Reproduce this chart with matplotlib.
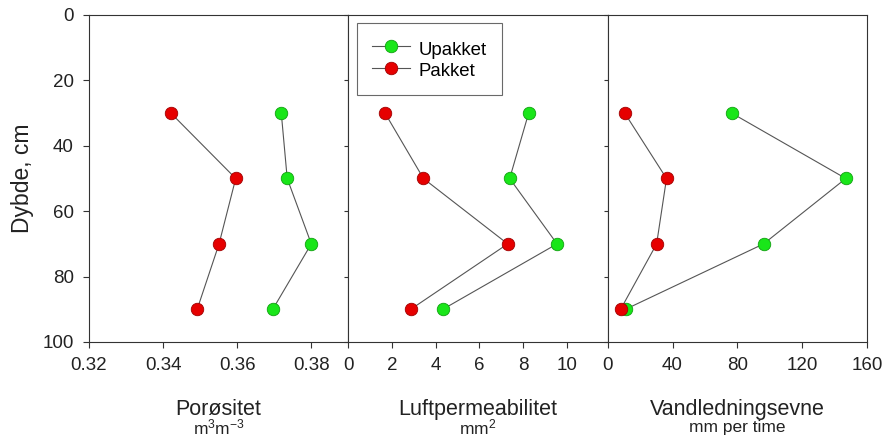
import matplotlib
matplotlib.use("Agg")
import matplotlib.pyplot as plt

plt.rcParams['font.family'] = ['Liberation Sans', 'DejaVu Sans']
plt.rcParams['mathtext.fontset'] = 'custom'
plt.rcParams['mathtext.rm'] = 'Liberation Sans'
plt.rcParams['mathtext.it'] = 'Liberation Sans'

# dybde (cm)
dybde = [30, 50, 70, 90]

# porøsitet
por_upakket = [0.3719, 0.3735, 0.3800, 0.3696]
por_pakket = [0.3421, 0.3596, 0.3551, 0.3492]

# luftpermeabilitet
luft_upakket = [8.26, 7.39, 9.56, 4.33]
luft_pakket = [1.68, 3.44, 7.30, 2.86]

# vandledningsevne
vand_upakket = [76.5, 146.9, 96.2, 11.0]
vand_pakket = [10.5, 36.3, 30.2, 8.0]

panels = [
    (por_upakket, por_pakket, (0.32, 0.39), [0.32, 0.34, 0.36, 0.38], ['0.32', '0.34', '0.36', '0.38'],
     'Porøsitet', r'm$^3$m$^{-3}$'),
    (luft_upakket, luft_pakket, (0, 11.88), [0, 2, 4, 6, 8, 10], ['0', '2', '4', '6', '8', '10'],
     'Luftpermeabilitet', r'mm$^2$'),
    (vand_upakket, vand_pakket, (0, 160), [0, 40, 80, 120, 160], ['0', '40', '80', '120', '160'],
     'Vandledningsevne', 'mm per time'),
]

green = '#19e619'
red = '#e60000'
linecol = '#555555'

fig, axes = plt.subplots(1, 3, figsize=(8.83, 4.45), dpi=100, sharey=True)
fig.subplots_adjust(left=0.1008, right=0.9819, bottom=0.2315, top=0.9663, wspace=0)

for i, (ax, (up, pk, xlim, xt, xtl, title, unit)) in enumerate(zip(axes, panels)):
    ax.plot(up, dybde, '-o', color=linecol, lw=0.8, marker='o', ms=9,
            markerfacecolor=green, markeredgecolor='#10a010', markeredgewidth=0.6, label='Upakket')
    ax.plot(pk, dybde, '-o', color=linecol, lw=0.8, marker='o', ms=9,
            markerfacecolor=red, markeredgecolor='#a00000', markeredgewidth=0.6, label='Pakket')
    ax.set_xlim(*xlim)
    ax.set_ylim(100, 0)
    ax.set_xticks(xt)
    ax.set_xticklabels(xtl)
    ax.set_yticks([0, 20, 40, 60, 80, 100])
    ax.tick_params(direction='out', length=4, width=0.8, color='#333333',
                   labelsize=13.5, labelcolor='#222222', pad=7)
    for s in ax.spines.values():
        s.set_linewidth(0.8)
        s.set_color('#333333')
    if i > 0:
        ax.tick_params(axis='y', labelleft=False, length=3)
    ax.text(0.5, -0.205, title, transform=ax.transAxes, ha='center', va='center',
            fontsize=15.5, color='#222222')
    ax.text(0.5, -0.262, unit, transform=ax.transAxes, ha='center', va='center',
            fontsize=12.5, color='#222222')

axes[0].set_ylabel('Dybde, cm', fontsize=16.5, color='#222222', labelpad=6)

leg = axes[1].legend(loc='upper left', bbox_to_anchor=(0.035, 0.9755), fontsize=13.4,
                     frameon=True, fancybox=False, edgecolor='#444444', borderpad=0.8,
                     handlelength=2.0, handleheight=1.35, labelspacing=0.05,
                     handletextpad=0.5, borderaxespad=0)
leg.get_frame().set_linewidth(0.8)

fig.savefig('out.png', dpi=100)
